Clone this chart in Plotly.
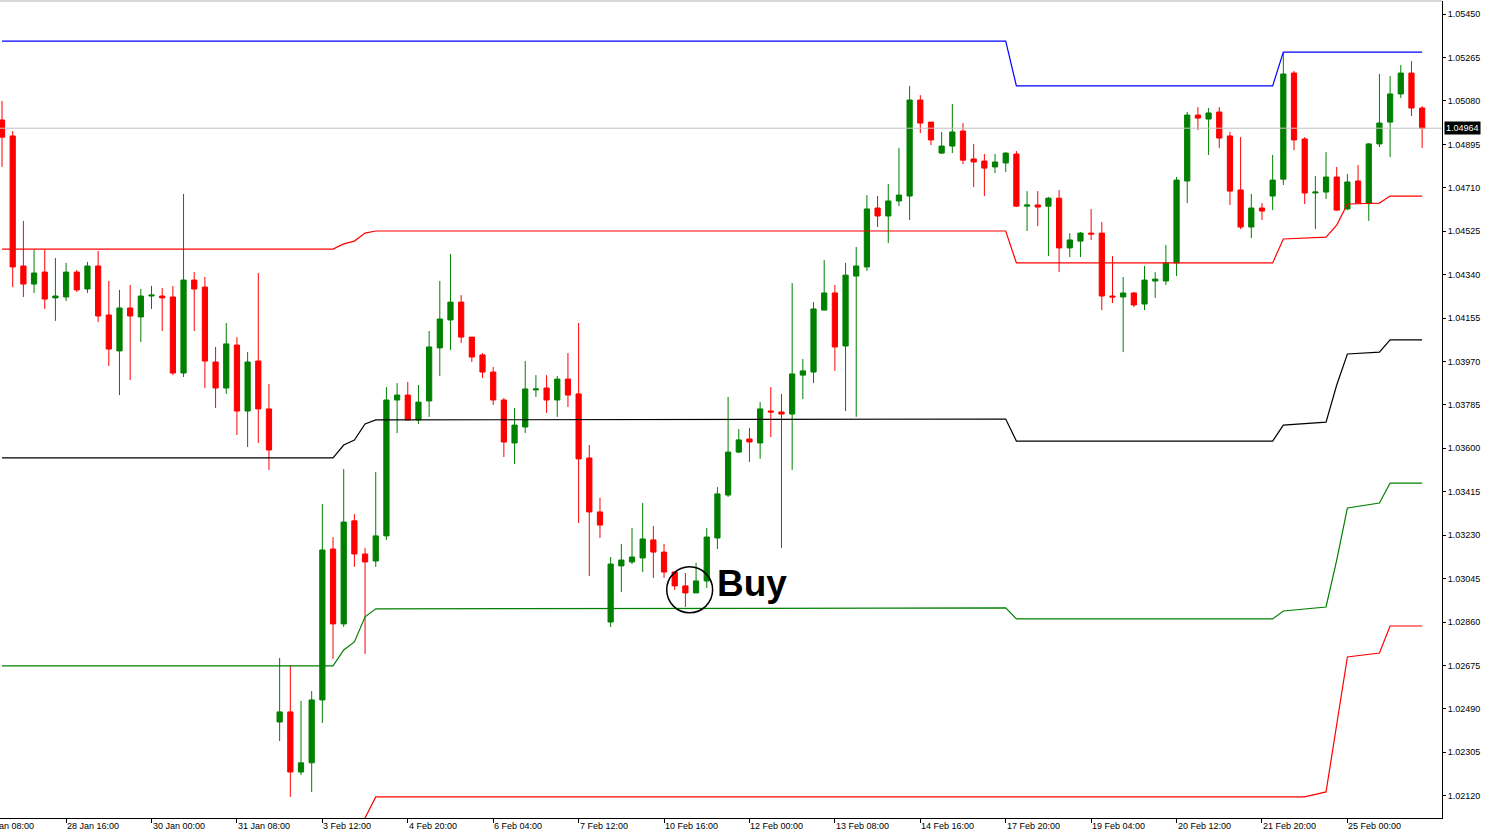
import plotly.graph_objects as go

# 4H candles, index 0..133
opens = [1.04999, 1.04931, 1.04377, 1.04300, 1.04351, 1.04241, 1.04245, 1.04351, 1.04279, 1.04377,
         1.04168, 1.04015, 1.04198, 1.04160, 1.04249, 1.04249, 1.04245, 1.03921, 1.04317, 1.04287,
         1.03968, 1.03857, 1.04040, 1.03759, 1.03972, 1.03768, 1.02434, 1.02477, 1.02221, 1.02260,
         1.02528, 1.03171, 1.02852, 1.03291, 1.03150, 1.03120, 1.03227, 1.03806, 1.03827, 1.03721,
         1.03802, 1.04028, 1.04147, 1.04223, 1.04074, 1.03998, 1.03925, 1.03806, 1.03623, 1.03691,
         1.03849, 1.03857, 1.03806, 1.03895, 1.03832, 1.03559, 1.03329, 1.02860, 1.03099, 1.03116,
         1.03133, 1.03210, 1.03158, 1.03073, 1.03014, 1.02984, 1.03035, 1.03218, 1.03401, 1.03584,
         1.03640, 1.03623, 1.03759, 1.03755, 1.03746, 1.03912, 1.03925, 1.04189, 1.04262, 1.04036,
         1.04334, 1.04373, 1.04624, 1.04590, 1.04654, 1.04675, 1.05084, 1.04990, 1.04858, 1.04888,
         1.04952, 1.04833, 1.04824, 1.04799, 1.04816, 1.04854, 1.04632, 1.04637, 1.04632, 1.04666,
         1.04454, 1.04483, 1.04517, 1.04517, 1.04249, 1.04245, 1.04262, 1.04215, 1.04313, 1.04313,
         1.04390, 1.04739, 1.05020, 1.05003, 1.05033, 1.04931, 1.04701, 1.04543, 1.04624, 1.04675,
         1.04747, 1.05199, 1.04918, 1.04688, 1.04692, 1.04756, 1.04620, 1.04739, 1.04645, 1.04897,
         1.04990, 1.05110, 1.05199, 1.05050]
highs = [1.05080, 1.04952, 1.04569, 1.04445, 1.04445, 1.04411, 1.04390, 1.04360, 1.04394, 1.04441,
         1.04313, 1.04275, 1.04296, 1.04279, 1.04292, 1.04283, 1.04292, 1.04684, 1.04351, 1.04330,
         1.04032, 1.04134, 1.04074, 1.04010, 1.04347, 1.03874, 1.02707, 1.02677, 1.02524, 1.02566,
         1.03363, 1.03222, 1.03512, 1.03320, 1.03176, 1.03499, 1.03861, 1.03878, 1.03883, 1.03870,
         1.04100, 1.04313, 1.04428, 1.04253, 1.04074, 1.04006, 1.03947, 1.03815, 1.03772, 1.03972,
         1.03912, 1.03912, 1.03908, 1.04006, 1.04134, 1.03614, 1.03389, 1.03137, 1.03193, 1.03261,
         1.03367, 1.03269, 1.03193, 1.03073, 1.03069, 1.03112, 1.03261, 1.03435, 1.03819, 1.03682,
         1.03687, 1.03797, 1.03861, 1.03832, 1.04304, 1.03981, 1.04223, 1.04402, 1.04296, 1.04390,
         1.04458, 1.04679, 1.04675, 1.04726, 1.04880, 1.05144, 1.05105, 1.04990, 1.04948, 1.05067,
         1.04986, 1.04897, 1.04854, 1.04854, 1.04862, 1.04867, 1.04696, 1.04696, 1.04671, 1.04701,
         1.04517, 1.04522, 1.04620, 1.04564, 1.04419, 1.04330, 1.04266, 1.04377, 1.04351, 1.04466,
         1.04756, 1.05033, 1.05054, 1.05050, 1.05054, 1.04948, 1.04926, 1.04684, 1.04645, 1.04850,
         1.05284, 1.05208, 1.04926, 1.04760, 1.04862, 1.04799, 1.04769, 1.04807, 1.04901, 1.05195,
         1.05186, 1.05233, 1.05250, 1.05058]
lows = [1.04799, 1.04287, 1.04245, 1.04262, 1.04194, 1.04143, 1.04228, 1.04266, 1.04262, 1.04138,
        1.03951, 1.03827, 1.03891, 1.04053, 1.04194, 1.04100, 1.03912, 1.03904, 1.04100, 1.03857,
        1.03772, 1.03832, 1.03657, 1.03606, 1.03623, 1.03508, 1.02353, 1.02115, 1.02208, 1.02136,
        1.02430, 1.02703, 1.02839, 1.03095, 1.02724, 1.03095, 1.03210, 1.03665, 1.03721, 1.03704,
        1.03734, 1.03908, 1.04019, 1.04049, 1.03968, 1.03900, 1.03785, 1.03563, 1.03533, 1.03665,
        1.03819, 1.03751, 1.03734, 1.03776, 1.03282, 1.03056, 1.03218, 1.02839, 1.02988, 1.03107,
        1.03073, 1.03048, 1.03048, 1.02997, 1.02924, 1.02984, 1.03005, 1.03171, 1.03393, 1.03580,
        1.03542, 1.03555, 1.03648, 1.03176, 1.03508, 1.03810, 1.03878, 1.04189, 1.03930, 1.03759,
        1.03734, 1.04356, 1.04543, 1.04475, 1.04632, 1.04573, 1.04943, 1.04892, 1.04854, 1.04858,
        1.04811, 1.04713, 1.04675, 1.04773, 1.04777, 1.04628, 1.04526, 1.04547, 1.04419, 1.04351,
        1.04415, 1.04415, 1.04488, 1.04189, 1.04219, 1.04010, 1.04202, 1.04189, 1.04241, 1.04296,
        1.04334, 1.04645, 1.04956, 1.04850, 1.04880, 1.04637, 1.04534, 1.04496, 1.04573, 1.04615,
        1.04722, 1.04871, 1.04641, 1.04534, 1.04662, 1.04611, 1.04615, 1.04645, 1.04569, 1.04884,
        1.04841, 1.05093, 1.05016, 1.04880]
closes = [1.04926, 1.04373, 1.04300, 1.04347, 1.04236, 1.04249, 1.04351, 1.04275, 1.04377, 1.04164,
          1.04023, 1.04198, 1.04164, 1.04249, 1.04253, 1.04241, 1.03921, 1.04317, 1.04279, 1.03972,
          1.03857, 1.04045, 1.03759, 1.03968, 1.03768, 1.03593, 1.02477, 1.02221, 1.02260, 1.02528,
          1.03167, 1.02852, 1.03286, 1.03150, 1.03116, 1.03227, 1.03806, 1.03827, 1.03721, 1.03797,
          1.04032, 1.04151, 1.04223, 1.04074, 1.03989, 1.03925, 1.03806, 1.03627, 1.03699, 1.03853,
          1.03853, 1.03806, 1.03895, 1.03827, 1.03555, 1.03329, 1.03273, 1.03107, 1.03124, 1.03137,
          1.03214, 1.03158, 1.03073, 1.03014, 1.02984, 1.03035, 1.03222, 1.03406, 1.03584, 1.03636,
          1.03627, 1.03768, 1.03755, 1.03746, 1.03917, 1.03930, 1.04194, 1.04262, 1.04032, 1.04338,
          1.04377, 1.04620, 1.04590, 1.04654, 1.04679, 1.05084, 1.04986, 1.04914, 1.04888, 1.04948,
          1.04828, 1.04820, 1.04794, 1.04820, 1.04858, 1.04632, 1.04637, 1.04628, 1.04666, 1.04454,
          1.04488, 1.04517, 1.04513, 1.04249, 1.04245, 1.04262, 1.04211, 1.04317, 1.04321, 1.04390,
          1.04743, 1.05020, 1.05007, 1.05029, 1.04922, 1.04696, 1.04543, 1.04624, 1.04611, 1.04743,
          1.05195, 1.04914, 1.04688, 1.04692, 1.04756, 1.04615, 1.04735, 1.04645, 1.04897, 1.04986,
          1.05110, 1.05199, 1.05050, 1.04964]

# pivot levels (breakpoints by candle index)
lvl_x = [0, 31, 32, 33, 34, 35, 94, 95, 119, 120, 124, 125, 126, 129, 130, 133]
r1 = [1.04449, 1.04449, 1.04471, 1.04483, 1.04517, 1.04526, 1.04526, 1.04390, 1.04390, 1.04492,
      1.04500, 1.04551, 1.04641, 1.04645, 1.04675, 1.04675]
pp = [1.03559, 1.03559, 1.03614, 1.03635, 1.03704, 1.03721, 1.03725, 1.03631, 1.03631, 1.03699,
      1.03712, 1.03870, 1.04002, 1.04010, 1.04062, 1.04062]
s1 = [1.02673, 1.02673, 1.02741, 1.02775, 1.02882, 1.02916, 1.02920, 1.02873, 1.02873, 1.02907,
      1.02924, 1.03124, 1.03346, 1.03367, 1.03452, 1.03452]
r2_x = [0, 94, 95, 119, 120, 133]
r2 = [1.05335, 1.05335, 1.05144, 1.05144, 1.05288, 1.05288]
s2_x = [31, 34, 35, 122, 124, 126, 129, 130, 133]
s2 = [1.01700, 1.02025, 1.02115, 1.02115, 1.02136, 1.02711, 1.02728, 1.02843, 1.02843]

price_ticks = [1.05450, 1.05265, 1.05080, 1.04895, 1.04710, 1.04525, 1.04340, 1.04155, 1.03970,
               1.03785, 1.03600, 1.03415, 1.03230, 1.03045, 1.02860, 1.02675, 1.02490, 1.02305, 1.02120]
time_idx = [-2, 6, 14, 22, 30, 38, 46, 54, 62, 70, 78, 86, 94, 102, 110, 118, 126]
time_labels = ["28 Jan 08:00", "28 Jan 16:00", "30 Jan 00:00", "31 Jan 08:00", "3 Feb 12:00",
               "4 Feb 20:00", "6 Feb 04:00", "7 Feb 12:00", "10 Feb 16:00", "12 Feb 00:00",
               "13 Feb 08:00", "14 Feb 16:00", "17 Feb 20:00", "19 Feb 04:00", "20 Feb 12:00",
               "21 Feb 20:00", "25 Feb 00:00"]
last_price = 1.04964

idx = list(range(len(opens)))
font = "Liberation Sans"
x_range = [-0.19, 134.86]

fig = go.Figure()
fig.add_trace(go.Candlestick(
    x=idx, open=opens, high=highs, low=lows, close=closes,
    increasing=dict(line=dict(color="#008000", width=1), fillcolor="#008000"),
    decreasing=dict(line=dict(color="#ff0000", width=1), fillcolor="#ff0000"),
    whiskerwidth=0, showlegend=False, hoverinfo="skip"))

for xs, ys, col in [(r2_x, r2, "#0000ff"), (lvl_x, r1, "#ff0000"), (lvl_x, pp, "#000000"),
                    (lvl_x, s1, "#008000"), (s2_x, s2, "#ff0000")]:
    fig.add_trace(go.Scatter(x=xs, y=ys, mode="lines", line=dict(color=col, width=1.2),
                             showlegend=False, hoverinfo="skip"))

# last price line
fig.add_hline(y=last_price, line=dict(color="#c0c0c0", width=1))
fig.add_annotation(xref="paper", x=1.0, y=last_price, text=f"{last_price:.5f}",
                   showarrow=False, xanchor="left", xshift=2, bgcolor="#000000",
                   font=dict(color="#ffffff", size=9, family=font), borderpad=1)

# Buy marker
fig.add_shape(type="circle", x0=62.25, x1=66.55, y0=1.02899, y1=1.03095,
              line=dict(color="#000000", width=1.5))
fig.add_annotation(x=66.8, y=1.03026, text="<b>Buy</b>", showarrow=False, xanchor="left",
                   font=dict(size=37, family=font, color="#000000"))

# time labels (left edge of label at its tick, paper coords so the first one may run off)
span = x_range[1] - x_range[0]
for t, lab in zip(time_idx, time_labels):
    fig.add_annotation(x=(t - x_range[0]) / span, xref="paper", y=0, yref="paper",
                       yanchor="top", xanchor="left", text=lab, showarrow=False,
                       yshift=-1, xshift=-1, font=dict(size=9, family=font, color="#000000"))

# top border
fig.add_shape(type="line", xref="paper", yref="paper", x0=0, x1=1, y0=1, y1=1,
              line=dict(color="#b0b0b0", width=1))

fig.update_layout(
    width=1487, height=833, margin=dict(l=0, r=45, t=1, b=15, pad=0, autoexpand=False),
    paper_bgcolor="#ffffff", plot_bgcolor="#ffffff",
    xaxis=dict(range=x_range, rangeslider=dict(visible=False), showgrid=False,
               zeroline=False, showline=True, linecolor="#000000", linewidth=1,
               tickvals=time_idx, ticktext=[""] * len(time_idx), ticks="outside",
               ticklen=4, tickcolor="#000000"),
    yaxis=dict(range=[1.02025, 1.05506], side="right", showgrid=False, zeroline=False,
               showline=True, linecolor="#000000", linewidth=1, tickvals=price_ticks,
               ticktext=[f"{v:.5f}" for v in price_ticks], ticks="outside", ticklen=3,
               tickcolor="#000000", tickfont=dict(size=9, family=font, color="#000000")),
)

fig.write_html("out.html", config={"displayModeBar": False},
               post_script="document.body.style.margin='0';")
